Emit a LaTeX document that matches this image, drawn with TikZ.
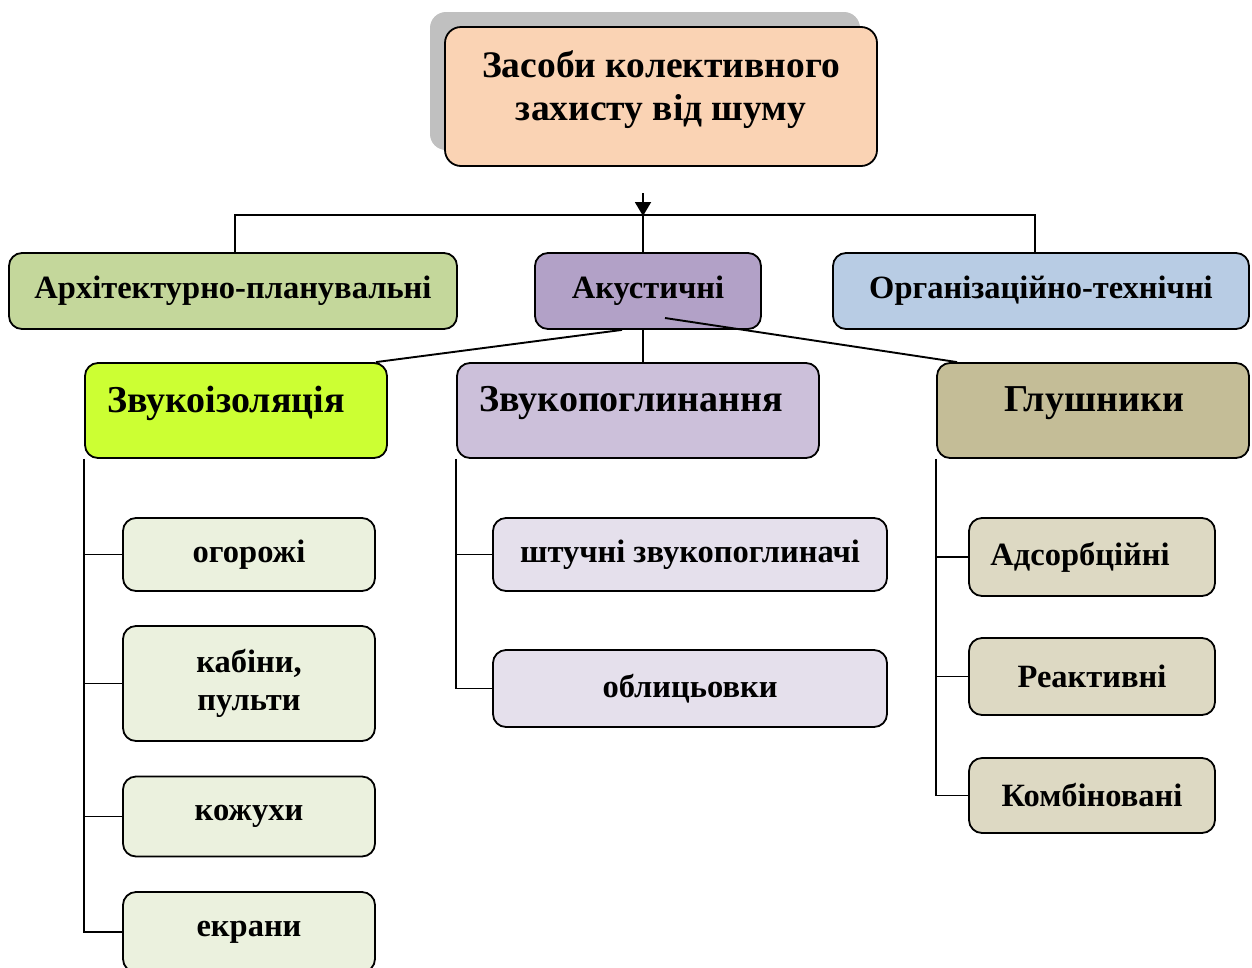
\documentclass[tikz,border=0pt]{standalone}
\usepackage{fontspec}
\setmainfont{Liberation Serif}
\usetikzlibrary{arrows.meta,calc}
\definecolor{cTop}{HTML}{FAD3B4}
\definecolor{cShadow}{HTML}{C0C0C0}
\definecolor{cArch}{HTML}{C4D79B}
\definecolor{cAk}{HTML}{B2A1C7}
\definecolor{cOrg}{HTML}{B8CCE4}
\definecolor{cZi}{HTML}{CCFF33}
\definecolor{cZp}{HTML}{CCC0DA}
\definecolor{cGl}{HTML}{C4BD97}
\definecolor{cZiC}{HTML}{EBF1DE}
\definecolor{cZpC}{HTML}{E5E0EC}
\definecolor{cGlC}{HTML}{DDD9C3}
\tikzset{
  box/.style={draw=black, line width=1.8pt, rounded corners=13pt, inner sep=0pt, align=center, font=\bfseries\fontsize{32.5}{38}\selectfont},
  lvltwo/.style={box},
  lbl/.style={inner sep=0pt, align=center, font=\bfseries\fontsize{38}{44}\selectfont},
  conn/.style={draw=black, line width=1.9pt},
}
\begin{document}
\begin{tikzpicture}[x=1pt,y=-1pt]
\useasboundingbox (0,0) rectangle (1252,967);
\begin{scope}
\clip (0,0) rectangle (1252,967);
% shadow and top box
\node[fill=cShadow, rounded corners=16pt, minimum width=430, minimum height=138, inner sep=0pt] (shadow) at (645,81) {};
\node[box, fill=cTop, rounded corners=16pt, minimum width=432, minimum height=139] (top) at (661,96.5) {};
\node[lbl, font=\bfseries\fontsize{37.5}{43}\selectfont] (topT) at (661,90) {Засоби колективного\\захисту від шуму};
% first level
\node[box, fill=cArch, minimum width=448, minimum height=76] (arch) at (233,291) {Архітектурно-планувальні};
\node[box, fill=cAk, minimum width=226, minimum height=76] (ak) at (648,291) {Акустичні};
\node[box, fill=cOrg, minimum width=416, minimum height=76] (org) at (1041,291) {Організаційно-технічні};
% second level
\node[lvltwo, fill=cZi, minimum width=302, minimum height=95] (zi) at (236,410.5) {};
\node[lvltwo, fill=cZp, minimum width=362, minimum height=95] (zp) at (638,410.5) {};
\node[lvltwo, fill=cGl, minimum width=312, minimum height=95] (gl) at (1093,410.5) {};
\node[lbl] (ziT) at (226,403) {Звукоізоляція};
\node[lbl] (zpT) at (631,403) {Звукопоглинання};
\node[lbl] (glT) at (1094,403) {Глушники};
% children
\node[box, fill=cZiC, minimum width=252, minimum height=73] (og) at (249,554.5) {огорожі};
\node[box, fill=cZiC, minimum width=252, minimum height=115] (kab) at (249,683.5) {кабіни,\\пульти};
\node[box, fill=cZiC, minimum width=252, minimum height=80] (koz) at (249,816.5) {кожухи};
\node[box, fill=cZiC, minimum width=252, minimum height=80] (ekr) at (249,932) {екрани};
\node[box, fill=cZpC, minimum width=394, minimum height=73] (sht) at (690,554.5) {штучні звукопоглиначі};
\node[box, fill=cZpC, minimum width=394, minimum height=77] (obl) at (690,688.5) {облицьовки};
\node[box, fill=cGlC, minimum width=246, minimum height=78] (ads) at (1092,557) {\hspace*{-24pt}Адсорбційні};
\node[box, fill=cGlC, minimum width=246, minimum height=77] (reak) at (1092,676.5) {Реактивні};
\node[box, fill=cGlC, minimum width=246, minimum height=75] (komb) at (1092,795.5) {Комбіновані};
% connectors
\coordinate (hub) at (643,215);
\coordinate (arrs) at (643,193);
\draw[conn, -{Triangle[length=14pt,width=16pt]}] (arrs) -- ([yshift=-1]hub);
\draw[conn] ([xshift=2pt]arch.north) |- (hub) -| ([xshift=-6pt]org.north);
\draw[conn] (hub) -- (ak.north -| hub);
\draw[conn] (ak.south -| hub) -- (zp.north -| hub);
\draw[conn] ([xshift=-26pt]ak.south) -- ([xshift=-12pt]zi.north east);
\coordinate (akr) at (665,318);
\draw[conn] (akr) -- ([xshift=21pt]gl.north west);
\draw[conn] (zi.south west) |- (ekr.west);
\draw[conn] (zi.south west |- og.west) -- (og.west);
\draw[conn] (zi.south west |- kab.west) -- (kab.west);
\draw[conn] (zi.south west |- koz.west) -- (koz.west);
\draw[conn] (zp.south west) |- (obl.west);
\draw[conn] (zp.south west |- sht.west) -- (sht.west);
\draw[conn] (gl.south west) |- (komb.west);
\draw[conn] (gl.south west |- ads.west) -- (ads.west);
\draw[conn] (gl.south west |- reak.west) -- (reak.west);
\end{scope}
\end{tikzpicture}
\end{document}
